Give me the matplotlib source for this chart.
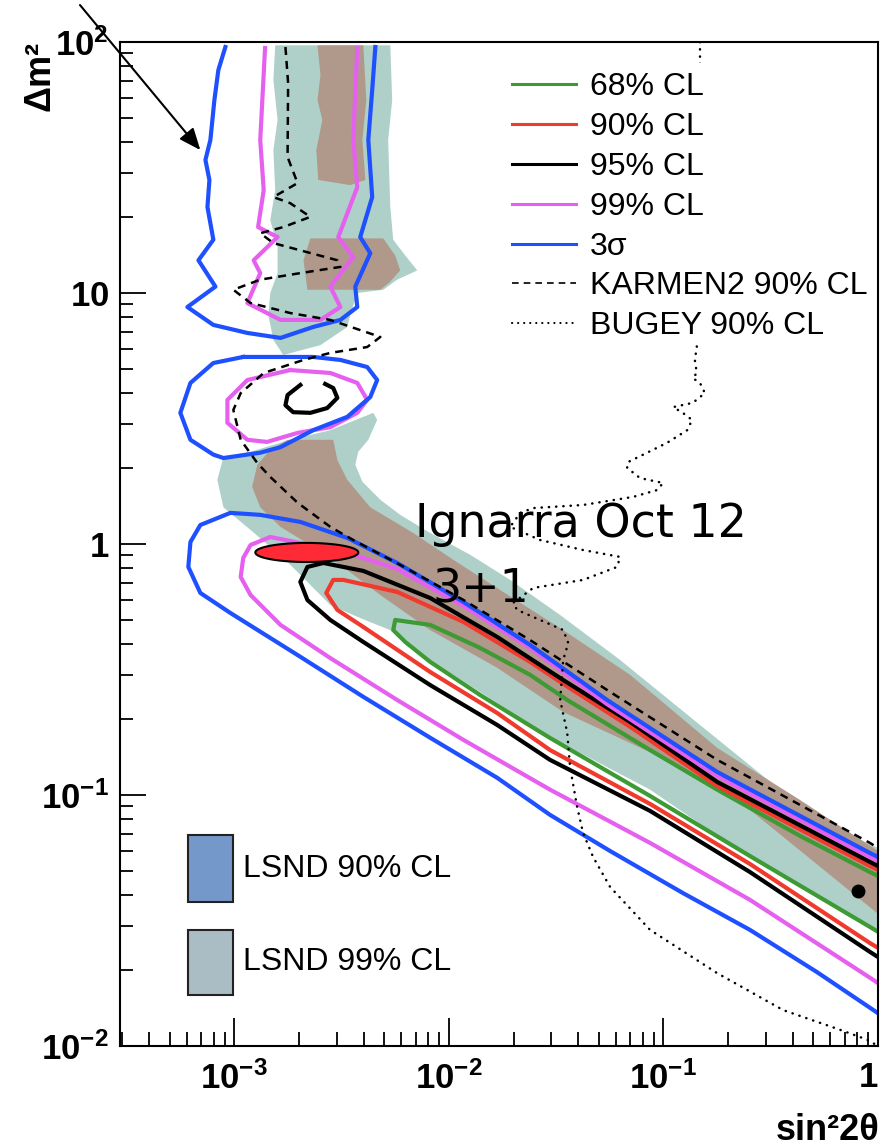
import numpy as np
import matplotlib
matplotlib.use("Agg")
import matplotlib.pyplot as plt
from matplotlib.ticker import LogLocator, NullFormatter
from matplotlib.patches import Rectangle

plt.rcParams['font.family'] = ['Liberation Sans', 'DejaVu Sans']
plt.rcParams['mathtext.fontset'] = 'custom'
plt.rcParams['mathtext.rm'] = 'Liberation Sans'
plt.rcParams['mathtext.bf'] = 'Liberation Sans:bold'

# ---- LSND allowed regions (sin^2 2theta, dm^2)
teal_top_x = [1.55e-3, 5.33e-3, 5.44e-3, 5.21e-3, 5.33e-3, 5.50e-3, 6.26e-3, 7.12e-3, 5.74e-3, 4.94e-3,
              3.74e-3, 3.47e-3, 3.36e-3, 2.52e-3, 1.69e-3, 1.52e-3, 1.44e-3, 1.47e-3, 1.59e-3, 1.59e-3,
              1.47e-3, 1.55e-3, 1.52e-3, 1.59e-3, 1.52e-3]
teal_top_y = [97, 97, 58.7, 40.7, 22.0, 16.3, 14.1, 12.3, 11.3, 10.3,
              10.0, 8.18, 7.32, 6.20, 5.66, 6.50, 8.18, 10.0, 12.0, 15.3,
              19.5, 25.7, 37.1, 48.9, 70.6]

teal_low_x = [4.44e-3, 4.63e-3, 4.21e-3, 3.78e-3, 3.66e-3, 3.95e-3, 4.79e-3, 5.93e-3, 8.18e-3, 1.26e-2,
              1.93e-2, 3.30e-2, 6.28e-2, 0.148, 0.349, 0.740, 1.0, 1.0, 0.253, 0.0866,
              0.0296, 0.014, 8.18e-3, 5.74e-3, 3.86e-3, 2.80e-3, 2.26e-3, 1.73e-3, 1.19e-3, 8.89e-4,
              8.33e-4, 8.89e-4, 1.19e-3, 1.82e-3, 2.80e-3]
teal_low_y = [3.33, 3.12, 2.60, 2.33, 2.07, 1.77, 1.50, 1.306, 1.106, 0.904,
              0.719, 0.521, 0.345, 0.190, 0.105, 0.0693, 0.0615, 0.0282, 0.0561, 0.105,
              0.170, 0.257, 0.345, 0.442, 0.507, 0.571, 0.687, 0.864, 1.137, 1.40,
              1.80, 2.22, 2.33, 2.60, 2.84]

brown_top_x = [2.44e-3, 3.99e-3, 4.12e-3, 3.95e-3, 4.08e-3, 3.47e-3, 2.46e-3, 2.41e-3, 2.57e-3, 2.44e-3, 2.52e-3]
brown_top_y = [97, 97, 58.7, 40.7, 28.2, 26.9, 28.2, 37.1, 48.9, 58.7, 73.9]

brown_mid_x = [2.26e-3, 4.94e-3, 5.62e-3, 5.93e-3, 5.33e-3, 4.79e-3, 2.19e-3, 2.10e-3]
brown_mid_y = [16.5, 16.5, 14.1, 12.3, 11.1, 10.3, 10.3, 13.5]

brown_low_x = [1.28e-3, 1.47e-3, 1.77e-3, 2.89e-3, 3.02e-3, 3.36e-3, 4.30e-3, 6.82e-3, 1.05e-2, 1.73e-2,
               3.30e-2, 6.99e-2, 0.178, 0.433, 1.0, 1.0, 0.253, 0.0866, 0.0341, 0.0168,
               8.18e-3, 4.79e-3, 3.12e-3, 2.33e-3, 1.64e-3, 1.32e-3, 1.21e-3]
brown_low_y = [2.07, 2.37, 2.60, 2.60, 2.16, 1.80, 1.40, 1.106, 0.864, 0.656,
               0.462, 0.301, 0.154, 0.0955, 0.0598, 0.0336, 0.0872, 0.148, 0.214, 0.321,
               0.454, 0.626, 0.825, 0.973, 1.17, 1.40, 1.69]

# ---- fit contours
blue_top_x = [9.08e-4, 8.42e-4, 8.07e-4, 7.73e-4, 7.33e-4, 7.65e-4, 7.49e-4, 7.98e-4, 6.80e-4, 8.16e-4,
              6.04e-4, 7.98e-4, 1.15e-3, 1.64e-3, 2.33e-3, 3.12e-3, 3.74e-3, 3.66e-3, 4.30e-3, 3.86e-3,
              4.39e-3, 4.21e-3, 4.39e-3, 4.54e-3]
blue_top_y = [95.5, 77.3, 58.7, 40.7, 33.9, 28.2, 22.0, 16.3, 13.5, 10.6,
              8.79, 7.46, 6.93, 6.62, 7.32, 7.81, 8.79, 10.6, 14.4, 16.7,
              24.1, 40.7, 64.4, 95.5]
blue_isl_x = [1.10e-3, 7.98e-4, 6.24e-4, 5.60e-4, 6.24e-4, 7.98e-4, 8.89e-4, 1.32e-3, 1.64e-3, 2.33e-3,
              3.36e-3, 4.30e-3, 4.63e-3, 4.16e-3, 3.12e-3, 2.33e-3, 1.64e-3, 1.10e-3]
blue_isl_y = [5.56, 5.26, 4.38, 3.33, 2.60, 2.27, 2.20, 2.31, 2.43, 2.84,
              3.21, 3.85, 4.50, 5.07, 5.41, 5.56, 5.56, 5.56]
blue_band_x = [1.0, 0.917, 0.178, 0.0546, 0.0239, 0.0117, 0.00574, 0.00336, 0.00203, 0.00132,
               0.000958, 0.000694, 0.000624, 0.00061, 0.000694, 0.000958, 0.00197, 0.00399, 0.00818, 0.0168,
               0.0296, 0.0564, 0.123, 0.253, 0.519, 0.917, 1.0]
blue_band_y = [0.0566, 0.0587, 0.1235, 0.239, 0.396, 0.587, 0.840, 1.057, 1.224, 1.306,
               1.33, 1.19, 1.018, 0.810, 0.638, 0.531, 0.361, 0.246, 0.169, 0.117,
               0.0833, 0.0598, 0.0407, 0.0290, 0.0197, 0.0142, 0.0135]

magenta_top_x = [1.39e-3, 1.32e-3, 1.37e-3, 1.29e-3, 1.59e-3, 1.23e-3, 1.32e-3, 1.15e-3, 1.64e-3, 2.52e-3,
                 3.12e-3, 2.80e-3, 3.58e-3, 3.05e-3, 3.74e-3, 3.58e-3, 3.74e-3]
magenta_top_y = [94.6, 40.7, 25.7, 18.3, 16.7, 13.5, 12.0, 9.12, 7.81, 7.81,
                 8.79, 10.6, 13.9, 16.7, 26.4, 40.7, 94.6]
magenta_isl_x = [1.82e-3, 1.15e-3, 9.28e-4, 9.28e-4, 1.15e-3, 1.42e-3, 1.97e-3, 2.80e-3, 3.74e-3, 4.16e-3,
                 3.74e-3, 2.80e-3, 1.82e-3]
magenta_isl_y = [4.93, 4.50, 3.75, 3.04, 2.60, 2.55, 2.77, 2.92, 3.33, 3.75,
                 4.38, 4.80, 4.93]
magenta_band_x = [1.0, 0.917, 0.178, 0.0546, 0.0239, 0.0117, 0.00574, 0.00386, 0.00226, 0.00147,
                  0.00119, 0.0011, 0.00107, 0.00119, 0.00164, 0.0028, 0.00574, 0.0117, 0.0296, 0.0866,
                  0.253, 0.917, 1.0]
magenta_band_y = [0.0546, 0.0566, 0.119, 0.230, 0.385, 0.566, 0.795, 0.888, 0.991, 1.066,
                  0.991, 0.880, 0.739, 0.626, 0.476, 0.351, 0.239, 0.1656, 0.105, 0.0644,
                  0.0382, 0.0187, 0.0178]

black_band_x = [1.0, 0.917, 0.178, 0.0699, 0.0341, 0.0168, 0.00818, 0.00399, 0.0026, 0.00219,
                0.00203, 0.00219, 0.0028, 0.00399, 0.00818, 0.0168, 0.0296, 0.0866, 0.253, 0.917, 1.0]
black_band_y = [0.0521, 0.0541, 0.1127, 0.1954, 0.287, 0.426, 0.609, 0.781, 0.840, 0.810,
                0.706, 0.598, 0.498, 0.407, 0.274, 0.190, 0.138, 0.0864, 0.0493, 0.0237, 0.0226]
black_isl_x = [2.65e-3, 2.89e-3, 3.02e-3, 2.71e-3, 2.26e-3, 1.88e-3, 1.73e-3, 1.77e-3, 2.03e-3]
black_isl_y = [4.34, 4.18, 3.82, 3.48, 3.33, 3.35, 3.57, 3.92, 4.30]

red_band_x = [1.0, 0.917, 0.178, 0.0699, 0.0341, 0.0239, 0.0117, 0.00574, 0.00322, 0.00289,
              0.00268, 0.00302, 0.00399, 0.00818, 0.0168, 0.0296, 0.0866, 0.253, 0.917, 1.0]
red_band_y = [0.0503, 0.0521, 0.1086, 0.187, 0.277, 0.339, 0.489, 0.644, 0.719, 0.719,
              0.638, 0.546, 0.467, 0.309, 0.212, 0.151, 0.0921, 0.0531, 0.0257, 0.0246]

green_band_x = [1.0, 0.917, 0.433, 0.178, 0.0866, 0.0356, 0.0239, 0.014, 0.00818, 0.00562,
                0.0055, 0.00626, 0.00818, 0.014, 0.0296, 0.0866, 0.253, 0.917, 1.0]
green_band_y = [0.0476, 0.0493, 0.0687, 0.105, 0.151, 0.239, 0.301, 0.385, 0.476, 0.498,
                0.454, 0.407, 0.339, 0.250, 0.1687, 0.0991, 0.0571, 0.0298, 0.0285]

# ---- exclusion limits
karmen_x = [1.73e-3, 1.78e-3, 1.77e-3, 1.97e-3, 1.52e-3, 1.82e-3, 2.26e-3, 1.69e-3, 1.32e-3, 1.52e-3,
            3.02e-3, 3.12e-3, 2.03e-3, 1.32e-3, 9.89e-4, 1.19e-3, 1.82e-3, 2.80e-3, 4.79e-3, 4.16e-3,
            2.80e-3, 2.10e-3, 1.37e-3, 1.07e-3, 9.89e-4, 1.07e-3, 1.28e-3, 1.47e-3, 1.97e-3, 2.80e-3,
            3.58e-3, 5.93e-3, 1.17e-2, 2.39e-2, 5.46e-2, 0.178, 0.917, 1.0]
karmen_y = [95.5, 68.7, 34.8, 27.4, 24.1, 22.8, 20.1, 18.3, 17.3, 15.8,
            13.5, 12.7, 12.0, 11.3, 10.3, 9.12, 8.32, 7.81, 6.68, 6.09,
            5.77, 5.41, 4.80, 3.99, 3.42, 2.60, 2.10, 1.85, 1.46, 1.17,
            1.037, 0.825, 0.598, 0.414, 0.262, 0.138, 0.0644, 0.0615]

bugey_x = [0.148, 0.148, 0.143, 0.140, 0.143, 0.137, 0.148, 0.156, 0.137, 0.111,
           0.123, 0.136, 0.129, 0.104, 0.0839, 0.0684, 0.0677, 0.0778, 0.0996, 0.0934,
           0.0722, 0.0422, 0.0247, 0.0215, 0.0193, 0.0266, 0.0422, 0.0628, 0.0608, 0.0422,
           0.0247, 0.0199, 0.0208, 0.0266, 0.0341, 0.0360, 0.0341, 0.0330, 0.0356, 0.0367,
           0.0396, 0.0422, 0.0470, 0.0564, 0.0866, 0.178, 0.361, 0.665, 0.888, 1.0]
bugey_y = [100, 23.5, 6.09, 5.41, 4.80, 4.58, 4.38, 3.99, 3.65, 3.51,
           3.33, 3.12, 2.84, 2.53, 2.31, 2.12, 2.01, 1.83, 1.75, 1.64,
           1.54, 1.43, 1.39, 1.33, 1.17, 1.037, 0.946, 0.888, 0.810, 0.719,
           0.668, 0.582, 0.546, 0.498, 0.454, 0.403, 0.345, 0.239, 0.177, 0.129,
           0.0896, 0.0706, 0.0566, 0.0430, 0.0290, 0.0195, 0.0139, 0.0116, 0.0106, 0.0100]

best_fit = (0.806, 0.0414)
ignarra_center = (2.176e-3, 0.925)   # centre of the 3+1 marker
ignarra_halfwidth = (0.24, 0.038)    # half axes in decades

x_ticks = [1e-3, 1e-2, 1e-1, 1]
x_tick_labels = [r'$\mathbf{10^{-3}}$', r'$\mathbf{10^{-2}}$', r'$\mathbf{10^{-1}}$', r'$\mathbf{1}$']
y_ticks = [1e-2, 1e-1, 1, 10, 100]
y_tick_labels = [r'$\mathbf{10^{-2}}$', r'$\mathbf{10^{-1}}$', r'$\mathbf{1}$', r'$\mathbf{10}$', r'$\mathbf{10^{2}}$']

legend_labels = ['68% CL', '90% CL', '95% CL', '99% CL', '3σ', 'KARMEN2 90% CL', 'BUGEY 90% CL']

c_teal = '#aed0c8'
c_brown = '#b0998b'
c_green = '#3d9a34'
c_red = '#ef3a2d'
c_black = 'black'
c_magenta = '#e660f0'
c_blue = '#1e50ff'

fig = plt.figure(figsize=(8.81, 11.47), dpi=100)
ax = fig.add_axes([0.1362, 0.0881, 0.8604, 0.8753])
ax.set_xscale('log')
ax.set_yscale('log')
ax.set_xlim(2.93e-4, 1.0)
ax.set_ylim(1e-2, 1e2)

# LSND shading
ax.fill(teal_top_x, teal_top_y, color=c_teal, lw=0, zorder=1)
ax.fill(teal_low_x, teal_low_y, color=c_teal, lw=0, zorder=1)
for bx, by in [(brown_top_x, brown_top_y), (brown_mid_x, brown_mid_y), (brown_low_x, brown_low_y)]:
    ax.fill(bx, by, color=c_brown, lw=0, zorder=1.1)

lw = 3.0
ax.plot(green_band_x, green_band_y, color=c_green, lw=lw, zorder=2)
ax.plot(red_band_x, red_band_y, color=c_red, lw=lw, zorder=2.1)
ax.plot(black_band_x, black_band_y, color=c_black, lw=lw, zorder=2.2)
ax.plot(black_isl_x, black_isl_y, color=c_black, lw=lw, zorder=2.2)
for mx, my in [(magenta_top_x, magenta_top_y), (magenta_isl_x, magenta_isl_y), (magenta_band_x, magenta_band_y)]:
    ax.plot(mx, my, color=c_magenta, lw=lw, zorder=2.3)
for bx, by in [(blue_top_x, blue_top_y), (blue_isl_x, blue_isl_y), (blue_band_x, blue_band_y)]:
    ax.plot(bx, by, color=c_blue, lw=lw, zorder=2.4)

ax.plot(karmen_x, karmen_y, color='black', lw=1.8, ls=(0, (3.2, 2.4)), zorder=3)
ax.plot(bugey_x, bugey_y, color='black', lw=1.8, ls=(0, (0.1, 2.8)),
        dash_capstyle='round', zorder=3)

ax.plot(*best_fit, 'o', color='black', ms=9, zorder=3.5)

# 3+1 best-fit marker
t = np.linspace(0, 2 * np.pi, 120)
ex = 10 ** (np.log10(ignarra_center[0]) + ignarra_halfwidth[0] * np.cos(t))
ey = 10 ** (np.log10(ignarra_center[1]) + ignarra_halfwidth[1] * np.sin(t))
ax.fill(ex, ey, facecolor='#ff2a35', edgecolor='black', lw=1.5, zorder=4)

ax.text(0.389, 0.519, 'Ignarra Oct 12', transform=ax.transAxes, family='DejaVu Sans',
        fontsize=33, ha='left', va='center', zorder=4.5)
ax.text(0.476, 0.454, '3+1', transform=ax.transAxes, family='DejaVu Sans',
        fontsize=33, ha='center', va='center', zorder=4.5)

ax.annotate('', xy=(6.94e-4, 37.1), xycoords='data',
            xytext=(0.0908, 0.9956), textcoords='figure fraction',
            arrowprops=dict(arrowstyle='-|>,head_length=0.6,head_width=0.25', color='black',
                            lw=1.5, mutation_scale=22, shrinkA=0, shrinkB=0),
            annotation_clip=False, zorder=5)

# legend for the fit contours and limits
ax.add_patch(Rectangle((0.507, 0.698), 0.449, 0.281, transform=ax.transAxes,
                       facecolor='white', edgecolor='none', zorder=5))
styles = [dict(color=c_green, lw=2.2), dict(color=c_red, lw=2.2), dict(color=c_black, lw=2.2),
          dict(color=c_magenta, lw=2.2), dict(color=c_blue, lw=2.2),
          dict(color='black', lw=1.2, ls=(0, (4, 3))),
          dict(color='black', lw=1.5, ls=(0, (0.1, 2.8)), dash_capstyle='round')]
for i, (lab, st) in enumerate(zip(legend_labels, styles)):
    yy = 0.958 - 0.0397 * i
    ax.plot([0.517, 0.602], [yy, yy], transform=ax.transAxes, zorder=6, **st)
    ax.text(0.620, yy - 0.003, lab, transform=ax.transAxes, fontsize=23,
            va='center', ha='left', zorder=6)

# LSND legend
for y0, h, fc, lab in [(0.143, 0.067, '#7598ca', 'LSND 90% CL'), (0.0508, 0.0647, '#aabcc4', 'LSND 99% CL')]:
    ax.add_patch(Rectangle((0.0897, y0), 0.0594, h, transform=ax.transAxes,
                           facecolor=fc, edgecolor='#222222', lw=1.5, zorder=5))
    ax.text(0.162, y0 + h / 2, lab, transform=ax.transAxes, fontsize=23,
            va='center', ha='left', zorder=6)

# axes styling
ax.set_xticks(x_ticks)
ax.set_xticklabels(x_tick_labels)
ax.get_xticklabels()[-1].set_ha('right')
ax.set_yticks(y_ticks)
ax.set_yticklabels(y_tick_labels)
ax.xaxis.set_minor_locator(LogLocator(subs=np.arange(2, 10)))
ax.yaxis.set_minor_locator(LogLocator(subs=np.arange(2, 10)))
ax.xaxis.set_minor_formatter(NullFormatter())
ax.yaxis.set_minor_formatter(NullFormatter())
ax.tick_params(axis='both', which='both', direction='in', top=False, right=False, width=1.3)
ax.tick_params(axis='x', which='major', length=20, pad=11, labelsize=25)
ax.tick_params(axis='x', which='minor', length=10)
ax.tick_params(axis='y', which='major', length=19, pad=8, labelsize=25)
ax.tick_params(axis='y', which='minor', length=9.5)
for sp in ax.spines.values():
    sp.set_linewidth(1.5)

fig.text(0.0454, 0.9337, 'Δm²', rotation=90, fontsize=26, fontweight='bold',
         ha='center', va='center')
fig.text(0.999, 0.0148, 'sin²2θ', fontsize=26, fontweight='bold', ha='right', va='center')

fig.savefig('out.png', dpi=100)
